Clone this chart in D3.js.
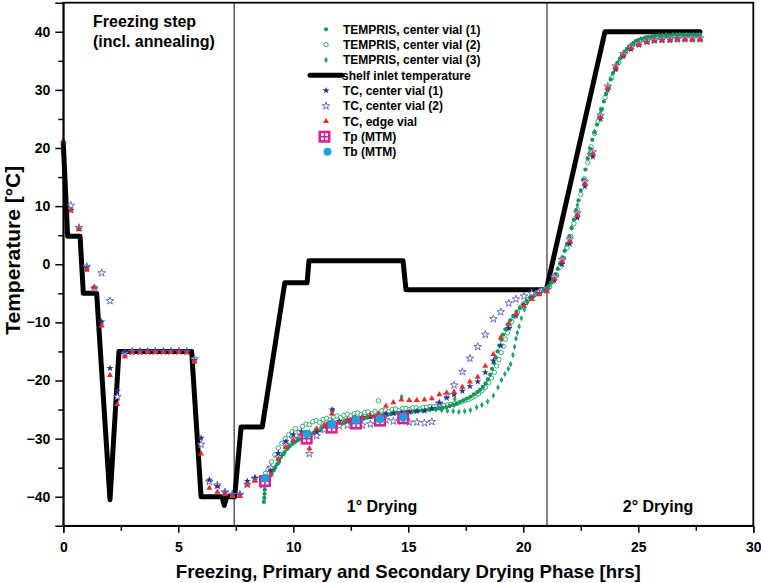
<!DOCTYPE html>
<html><head><meta charset="utf-8">
<script src="https://cdn.jsdelivr.net/npm/d3@7"></script>
<style>
html,body{margin:0;padding:0;background:#fff;}
svg{display:block;font-family:"Liberation Sans",Arial,Helvetica,sans-serif;font-weight:bold;}
</style>
</head><body>
<svg id="chart" width="761" height="583"></svg>
<script>
// ---------- data ----------
const xTicks = [0, 5, 10, 15, 20, 25, 30];
const xMinor = [2.5, 7.5, 12.5, 17.5, 22.5, 27.5];
const yTicks = [-40, -30, -20, -10, 0, 10, 20, 30, 40];
const yMinor = [-35, -25, -15, -5, 5, 15, 25, 35];
const phaseBounds = [7.43, 21.03];

const legendLabels = ["TEMPRIS, center vial (1)", "TEMPRIS, center vial (2)", "TEMPRIS, center vial (3)",
  "shelf inlet temperature", "TC, center vial (1)", "TC, center vial (2)", "TC, edge vial", "Tp (MTM)", "Tb (MTM)"];

// shelf inlet temperature [hrs, °C]
const shelf = [[0,20.7],[0.19,4.8],[0.73,4.8],[0.87,-5],[1.45,-5],[2.03,-40.5],[2.42,-15],[5.58,-15],[5.99,-40],
  [6.9,-40],[7.0,-41.5],[7.1,-40],[7.45,-40],[7.73,-28],[8.65,-28],[9.63,-3.2],[10.6,-3.2],[10.68,0.6],[14.77,0.6],
  [14.9,-4.4],[21.0,-4.4],[23.55,40],[27.68,40]];

// TC edge vial (red triangles)
const tcEdge = [[0.0,21.3],[0.33,9.2],[0.68,6.0],[1.02,-1.0],[1.35,-4.0],[1.67,-10.6],[2.03,-19.1],[2.35,-24.1],[2.68,-15.9],
  [3.0,-15.2],[3.33,-15.2],[3.67,-15.1],[4.0,-15.1],[4.35,-15.1],[4.68,-15.1],[5.03,-15.1],[5.37,-15.2],[5.7,-16.8],
  [5.99,-32.6],[6.35,-38.5],[6.7,-39.2],[7.03,-39.6],[7.35,-39.9],[7.68,-39.9],[8.0,-38.0],[8.33,-37.3],
  [8.67,-37.0],[9.02,-36.2],[9.35,-33.5],[9.68,-31.5],[10.0,-30.3],[10.35,-29.2],[10.7,-31.7],[11.02,-28.3],[11.35,-27.6],
  [11.68,-25.7],[12.0,-27.3],[12.35,-26.8],[12.68,-26.5],[13.0,-26.3],[13.35,-26.0],[13.7,-25.7],[14.03,-24.4],[14.35,-23.8],
  [14.7,-23.3],[15.04,-23.4],[15.37,-23.4],[15.7,-23.3],[16.02,-23.1],[16.35,-22.4],[16.67,-22.1],[16.99,-22.0],[17.35,-21.1],
  [17.68,-20.2],[18.02,-19.4],[18.35,-17.5],[18.7,-15.5],[19.02,-12.6],[19.37,-10.2],[19.68,-8.6],[20.03,-7.2],[20.37,-6.0],
  [20.7,-5.2],[21.02,-4.7],[21.35,-2.5],[21.68,0.5],[22.02,4.0],[22.35,8.5],[22.68,13.9],[23.02,19.0],[23.36,25.3],
  [23.67,30.3],[24.02,33.9],[24.35,36.0],[24.68,37.2],[25.02,37.8],[25.37,38.3],[25.7,38.4],[26.03,38.6],[26.38,38.6],
  [26.7,38.7],[27.03,38.7],[27.35,38.7],[27.68,38.7]];

// TC center vial (1) (filled stars)
const tc1 = [[0.0,20.8],[0.33,9.3],[0.68,6.1],[1.02,-0.6],[1.35,-3.9],[1.67,-9.9],[2.03,-17.9],[2.35,-21.8],[2.68,-15.0],
  [3.0,-15.1],[3.33,-15.0],[3.67,-15.0],[4.0,-15.0],[4.35,-15.0],[4.68,-15.0],[5.03,-15.0],[5.37,-15.0],[5.7,-16.5],
  [5.99,-29.9],[6.35,-37.1],[6.7,-38.2],[7.03,-39.3],[7.35,-39.7],[7.68,-39.7],[8.0,-37.3],[8.33,-36.7],
  [8.67,-37.5],[9.02,-35.5],[9.35,-32.5],[9.68,-30.5],[10.0,-29.3],[10.35,-28.8],[11.02,-28.8],[11.35,-27.8],
  [11.68,-25.0],[12.0,-27.0],[12.35,-26.8],[12.68,-26.4],[13.0,-26.3],[13.35,-26.2],[13.7,-26.0],[14.03,-25.7],[14.35,-25.6],
  [14.7,-25.5],[15.04,-25.4],[15.37,-25.3],[15.7,-25.2],[16.02,-24.8],[16.35,-23.8],[16.67,-23.0],[16.99,-22.4],[17.35,-21.8],
  [17.68,-21.0],[18.02,-20.2],[18.35,-18.6],[18.7,-16.6],[19.02,-14.0],[19.37,-11.0],[19.68,-8.8],[20.03,-7.0],[20.37,-5.8],
  [20.7,-5.0],[21.02,-4.5],[21.35,-2.8],[21.68,0.0],[22.02,3.5],[22.35,8.0],[22.68,13.4],[23.02,18.5],[23.36,25.0],
  [23.67,30.0],[24.02,33.6],[24.35,35.8],[24.68,37.0],[25.02,37.7],[25.37,38.2],[25.7,38.4],[26.03,38.5],[26.38,38.5],
  [26.7,38.6],[27.03,38.6],[27.35,38.6],[27.68,38.6]];

// TC center vial (2) (open stars)
const tc2 = [[0.33,10.1],[0.68,6.3],[1.02,-0.4],[1.35,-4.2],[1.67,-1.5],[2.03,-6.3],[2.35,-22.8],[2.68,-15.3],
  [3.0,-15.0],[3.33,-15.0],[3.67,-15.0],[4.0,-15.0],[4.35,-15.0],[4.68,-15.0],[5.03,-15.0],[5.37,-15.0],[5.7,-16.3],
  [5.99,-31.0],[6.35,-37.4],[6.7,-38.0],[7.03,-39.2],[7.35,-39.6],[7.68,-39.6],[8.0,-37.9],[8.33,-36.9],
  [8.67,-38.0],[9.02,-35.0],[9.35,-33.2],[9.68,-31.0],[10.0,-30.0],[10.35,-29.5],[10.7,-32.6],[11.02,-29.5],[11.35,-28.5],
  [11.68,-27.2],[12.0,-27.8],[12.35,-27.7],[12.68,-27.6],[13.0,-27.7],[13.35,-27.5],[13.7,-27.3],[14.03,-26.8],[14.35,-27.0],
  [14.7,-27.0],[15.04,-27.2],[15.37,-27.2],[15.7,-27.3],[16.02,-27.1],[16.35,-24.0],[16.67,-22.5],[16.99,-20.8],[17.35,-18.5],
  [17.68,-16.2],[18.02,-14.2],[18.35,-12.1],[18.7,-9.4],[19.02,-8.2],[19.37,-6.7],[19.68,-6.0],[20.03,-5.5],[20.37,-5.0],
  [20.7,-4.7],[21.02,-4.4],[21.35,-2.2],[21.68,0.8],[22.02,4.3],[22.35,8.8],[22.68,14.2],[23.02,19.3],[23.36,25.6],
  [23.67,30.6],[24.02,34.1],[24.35,36.2],[24.68,37.4],[25.02,38.0],[25.37,38.4],[25.7,38.6],[26.03,38.7],[26.38,38.8],
  [26.7,38.8],[27.03,38.9],[27.35,38.9],[27.68,38.9]];

// TEMPRIS center vial (1)
const tempris1 = [[8.72,-40.9],[8.74,-40.2],[8.75,-39.5],[8.76,-38.8],[8.78,-38.1],[8.80,-37.5],[8.86,-37.1],[8.95,-36.7],
  [9.05,-36.1],[9.14,-35.5],[9.22,-34.9],[9.30,-34.4],[9.38,-33.8],[9.46,-33.2],[9.54,-32.7],[9.62,-32.3],[9.72,-31.8],
  [9.84,-31.3],[9.96,-30.9],[10.08,-30.6],[10.20,-30.3],[10.33,-30.0],[10.46,-29.8],[10.60,-29.5],[10.74,-29.3],[10.88,-29.0],
  [11.02,-28.8],[11.16,-28.6],[11.30,-28.4],[11.44,-28.2],[11.58,-28.0],[11.72,-27.9],[11.86,-27.7],[12.00,-27.6],[12.15,-27.4],
  [12.30,-27.3],[12.45,-27.1],[12.60,-27.0],[12.75,-26.9],[12.90,-26.7],[13.05,-26.6],[13.20,-26.4],[13.35,-26.3],[13.50,-26.2],
  [13.65,-26.1],[13.80,-26.0],[13.95,-25.9],[14.10,-25.9],[14.25,-25.8],[14.40,-25.7],[14.55,-25.6],[14.70,-25.6],[14.85,-25.5],
  [15.00,-25.4],[15.15,-25.4],[15.30,-25.3],[15.45,-25.2],[15.60,-25.2],[15.75,-25.1],[15.90,-25.0],[16.05,-24.9],[16.20,-24.9],
  [16.35,-24.8],[16.50,-24.7],[16.65,-24.6],[16.80,-24.4],[16.95,-24.2],[17.10,-24.0],[17.25,-23.7],[17.40,-23.4],[17.55,-23.1],
  [17.70,-22.8],[17.85,-22.4],[18.00,-22.0],[18.12,-21.6],[18.24,-21.1],[18.36,-20.5],[18.46,-19.8],[18.56,-19.0],[18.64,-18.0],
  [18.72,-17.0],[18.80,-16.0],[18.88,-15.0],[18.96,-14.0],[19.04,-13.0],[19.12,-12.1],[19.22,-11.2],[19.32,-10.4],[19.44,-9.6],
  [19.56,-8.9],[19.70,-8.2],[19.85,-7.5],[20.00,-6.9],[20.15,-6.3],[20.30,-5.8],[20.45,-5.4],[20.60,-5.0],[20.75,-4.7],
  [20.90,-4.4],[21.02,-4.2],[21.10,-3.8],[21.20,-3.2],[21.30,-2.5],[21.40,-1.7],[21.50,-0.8],[21.60,0.2],[21.70,1.2],
  [21.80,2.3],[21.90,3.5],[22.00,4.8],[22.10,6.2],[22.20,7.7],[22.30,9.3],[22.40,11.0],[22.50,12.7],[22.60,14.5],[22.70,16.3],
  [22.80,18.2],[22.90,19.9],[23.00,21.4],[23.10,22.7],[23.20,24.0],[23.30,25.3],[23.40,26.6],[23.50,28.0],[23.60,29.3],
  [23.70,30.6],[23.80,31.8],[23.90,32.9],[24.00,33.9],[24.10,34.7],[24.20,35.4],[24.30,36.0],[24.40,36.5],[24.50,37.0],
  [24.60,37.4],[24.70,37.8],[24.80,38.1],[24.90,38.4],[25.00,38.6],[25.15,38.8],[25.30,39.0],[25.45,39.1],[25.60,39.2],
  [25.75,39.3],[25.90,39.3],[26.05,39.4],[26.20,39.4],[26.35,39.4],[26.50,39.5],[26.65,39.5],[26.80,39.5],[26.95,39.5],
  [27.10,39.5],[27.25,39.5],[27.40,39.5],[27.55,39.5],[27.68,39.5]];

// TEMPRIS center vial (2)
const tempris2 = [[8.78,-36.0],[8.9,-35.3],[9.05,-34.0],[9.2,-32.8],[9.35,-31.6],[9.5,-30.8],[9.65,-30.0],[9.8,-29.3],
  [9.95,-28.8],[10.1,-28.3],[10.25,-28.9],[10.4,-27.9],[10.55,-27.5],[10.7,-27.6],[10.85,-27.1],[11.0,-26.9],[11.15,-27.2],
  [11.3,-26.7],[11.45,-26.5],[11.6,-26.8],[11.75,-26.3],[11.9,-26.1],[12.05,-26.4],[12.2,-26.0],[12.35,-25.8],[12.5,-26.1],
  [12.65,-25.7],[12.8,-25.6],[12.95,-25.9],[13.1,-25.5],[13.25,-25.4],[13.4,-25.7],[13.55,-25.3],[13.7,-23.5],[13.85,-25.2],
  [14.0,-25.1],[14.15,-25.4],[14.3,-25.0],[14.45,-24.9],[14.6,-25.2],[14.75,-24.8],[14.9,-24.8],[15.05,-25.0],[15.2,-24.7],
  [15.35,-24.7],[15.5,-24.9],[15.65,-24.6],[15.8,-24.6],[15.95,-24.5],[16.1,-24.5],[16.25,-24.4],[16.4,-24.3],[16.55,-24.3],
  [16.7,-24.2],[16.85,-24.1],[17.0,-24.0],[17.15,-23.9],[17.3,-23.7],[17.45,-23.5],[17.6,-23.3],[17.75,-23.0],[17.9,-22.7],
  [18.05,-22.3],[18.2,-21.8],[18.35,-21.2],[18.5,-20.4],[18.62,-19.6],[18.74,-18.6],[18.84,-17.5],[18.94,-16.4],[19.04,-15.2],
  [19.13,-14.1],[19.22,-12.9],[19.31,-11.8],[19.4,-10.8],[19.5,-9.9],[19.62,-9.0],[19.75,-8.2],[19.9,-7.4],[20.05,-6.7],
  [20.2,-6.1],[20.35,-5.6],[20.5,-5.2],[20.65,-4.8],[20.8,-4.5],[20.95,-4.3],[21.15,-3.9],[21.3,-3.0],[21.45,-1.9],
  [21.6,-0.5],[21.75,1.0],[21.9,2.8],[22.05,4.8],[22.2,7.0],[22.35,9.4],[22.5,12.0],[22.65,14.7],[22.8,17.5],[22.95,20.2],
  [23.1,22.5],[23.25,24.6],[23.4,26.7],[23.55,28.7],[23.7,30.5],[23.85,32.1],[24.0,33.5],[24.15,34.7],[24.3,35.7],
  [24.45,36.5],[24.6,37.2],[24.75,37.7],[24.9,38.1],[25.05,38.4],[25.25,38.7],[25.45,38.9],[25.65,39.0],[25.85,39.1],
  [26.05,39.2],[26.3,39.2],[26.55,39.3],[26.8,39.3],[27.05,39.3],[27.3,39.3],[27.55,39.3]];

// TEMPRIS center vial (3)
const tempris3 = [[8.75,-37.8],[8.85,-37.3],[9.0,-36.4],[9.2,-35.2],[9.4,-34.0],[9.6,-32.6],[9.8,-31.5],[10.0,-30.7],
  [10.2,-30.0],[10.45,-29.4],[10.7,-28.9],[10.95,-28.5],[11.2,-28.1],[11.45,-27.8],[11.7,-27.5],[11.74,-25.1],[11.95,-27.3],
  [12.2,-27.0],[12.45,-26.8],[12.7,-26.6],[12.95,-26.4],[13.2,-26.2],[13.45,-26.0],[13.7,-25.8],[13.95,-25.7],[14.2,-25.6],
  [14.45,-25.5],[14.71,-22.8],[14.7,-25.4],[14.95,-25.3],[15.2,-25.2],[15.45,-25.1],[15.7,-25.0],[15.95,-25.0],[16.2,-25.0],
  [16.45,-25.1],[16.7,-25.2],[16.95,-25.3],[17.0,-24.2],[17.02,-23.2],[17.2,-25.4],[17.45,-25.3],[17.7,-25.1],[17.97,-24.6],
  [18.2,-24.2],[18.45,-23.6],[18.7,-22.6],[18.9,-21.2],[19.05,-19.9],[19.2,-18.9],[19.35,-18.0],[19.45,-17.2],[19.55,-15.6],
  [19.62,-14.2],[19.68,-12.8],[19.74,-11.8],[19.82,-10.7],[19.92,-9.3],[20.05,-7.8],[20.18,-6.6],[20.35,-5.7],[20.55,-5.0],
  [20.75,-4.6],[20.95,-4.3],[21.1,-3.9],[21.35,-2.3],[21.6,0.0],[21.85,2.9],[22.1,6.3],[22.35,10.2],[22.6,14.6],[22.85,19.0],
  [23.1,22.8],[23.35,26.0],[23.6,29.3],[23.85,32.2],[24.1,34.5],[24.35,36.2],[24.6,37.4],[24.85,38.2],[25.1,38.7],[25.35,39.0],
  [25.6,39.2],[25.9,39.3],[26.2,39.4],[26.5,39.4],[26.8,39.4],[27.1,39.4],[27.4,39.4],[27.65,39.4]];

// MTM results
const mtmHrs = [8.77, 10.58, 11.67, 12.73, 13.77, 14.78];
const tpMTM = [-37.3, -30.0, -28.1, -27.4, -26.9, -26.5];
const tbMTM = [-36.8, -29.2, -27.5, -26.8, -26.6, -26.3];

// ---------- drawing ----------
const W = 761, H = 583;
const m = {left: 63.3, right: 7.7, top: 2.7, bottom: 57.2};
const svg = d3.select("#chart");
const x = d3.scaleLinear().domain([0, 30]).range([m.left, W - m.right]);
const y = d3.scaleLinear().domain([-45, 45]).range([H - m.bottom, m.top]);

const C = {
  t1: "#13955a", t2: "#34ad70", t3: "#27a070",
  star1: "#30308c", star2: "#5b5bbd", tri: "#e3302b",
  tp: "#d6218e", tb: "#1ba2da", shelf: "#000"
};

// phase divider lines
svg.append("g").selectAll("line").data(phaseBounds).join("line")
  .attr("x1", d => x(d)).attr("x2", d => x(d))
  .attr("y1", y(45)).attr("y2", y(-45))
  .attr("stroke", "#444").attr("stroke-width", 1.3);

// phase labels
const lab = svg.append("g").attr("font-size", 16);
lab.append("text").attr("x", 93).attr("y", 27).text("Freezing step");
lab.append("text").attr("x", 93).attr("y", 47).text("(incl. annealing)");
lab.append("text").attr("x", 382).attr("y", 512).attr("text-anchor", "middle").text("1° Drying");
lab.append("text").attr("x", 658).attr("y", 512).attr("text-anchor", "middle").text("2° Drying");

// shelf line
svg.append("path").datum(shelf)
  .attr("d", d3.line().x(d => x(d[0])).y(d => y(d[1])))
  .attr("fill", "none").attr("stroke", C.shelf).attr("stroke-width", 5)
  .attr("stroke-linejoin", "round").attr("stroke-linecap", "round");

const sym = (type, size) => d3.symbol().type(type).size(size)();

// TEMPRIS points
svg.append("g").selectAll("path").data(tempris3).join("path")
  .attr("transform", d => `translate(${x(d[0])},${y(d[1])})`)
  .attr("d", sym(d3.symbolDiamond, 12)).attr("fill", C.t3);
svg.append("g").selectAll("circle").data(tempris2).join("circle")
  .attr("cx", d => x(d[0])).attr("cy", d => y(d[1])).attr("r", 2.2)
  .attr("fill", "#fff").attr("stroke", C.t2).attr("stroke-width", 1);
svg.append("g").selectAll("circle").data(tempris1).join("circle")
  .attr("cx", d => x(d[0])).attr("cy", d => y(d[1])).attr("r", 2.1)
  .attr("fill", C.t1);

// TC points
svg.append("g").selectAll("path").data(tc2).join("path")
  .attr("transform", d => `translate(${x(d[0])},${y(d[1])})`)
  .attr("d", sym(d3.symbolStar, 18)).attr("fill", "#fff").attr("stroke", C.star2).attr("stroke-width", 0.9);
svg.append("g").selectAll("path").data(tc1).join("path")
  .attr("transform", d => `translate(${x(d[0])},${y(d[1])})`)
  .attr("d", sym(d3.symbolStar, 16)).attr("fill", C.star1);
svg.append("g").selectAll("path").data(tcEdge).join("path")
  .attr("transform", d => `translate(${x(d[0])},${y(d[1])})`)
  .attr("d", sym(d3.symbolTriangle, 16)).attr("fill", C.tri);

// MTM markers
function tpMarker(g) {
  g.append("rect").attr("x", -6).attr("y", -6).attr("width", 12).attr("height", 12).attr("fill", C.tp);
  [[-3.5, -3.5], [0.8, -3.5], [-3.5, 0.8], [0.8, 0.8]].forEach(o =>
    g.append("rect").attr("x", o[0]).attr("y", o[1]).attr("width", 2.7).attr("height", 2.7).attr("fill", "#fff"));
}
svg.append("g").selectAll("g").data(mtmHrs.map((h, i) => [h, tpMTM[i]])).join("g")
  .attr("transform", d => `translate(${x(d[0])},${y(d[1])})`).each(function () { tpMarker(d3.select(this)); });
svg.append("g").selectAll("circle").data(mtmHrs.map((h, i) => [h, tbMTM[i]])).join("circle")
  .attr("cx", d => x(d[0])).attr("cy", d => y(d[1])).attr("r", 4.3).attr("fill", C.tb);

// axes
svg.append("g").attr("transform", `translate(0,${y(-45)})`)
  .call(d3.axisBottom(x).tickValues(xTicks).tickSize(7).tickPadding(9).tickFormat(d3.format("d")));
svg.append("g").attr("transform", `translate(0,${y(-45)})`)
  .call(d3.axisBottom(x).tickValues(xMinor).tickSize(5).tickFormat(""))
  .select(".domain").remove();
svg.append("g").attr("transform", `translate(${x(0)},0)`)
  .call(d3.axisLeft(y).tickValues(yTicks).tickSize(8).tickPadding(5).tickFormat(d3.format("d")));
svg.append("g").attr("transform", `translate(${x(0)},0)`)
  .call(d3.axisLeft(y).tickValues(yMinor).tickSize(5).tickFormat(""))
  .select(".domain").remove();
svg.selectAll(".tick text").attr("font-size", 14).attr("font-weight", "bold")
  .attr("font-family", '"Liberation Sans",Arial,sans-serif').attr("fill", "#000");
svg.selectAll(".tick line").attr("stroke", "#000").attr("stroke-width", 1.5);
svg.selectAll(".domain").attr("stroke-width", 1.5);

// frame
svg.append("rect").attr("x", x(0)).attr("y", y(45)).attr("width", x(30) - x(0)).attr("height", y(-45) - y(45))
  .attr("fill", "none").attr("stroke", "#000").attr("stroke-width", 1.8);

// axis titles
svg.append("text").attr("x", (x(0) + x(30)) / 2).attr("y", 578).attr("text-anchor", "middle")
  .attr("font-size", 18.6).text("Freezing, Primary and Secondary Drying Phase [hrs]");
svg.append("text").attr("transform", `translate(20,${(y(-45) + y(45)) / 2 - 14}) rotate(-90)`)
  .attr("text-anchor", "middle").attr("font-size", 21).text("Temperature [°C]");

// legend
const lg = svg.append("g").attr("font-size", 12);
const rowY = [29.3, 44.6, 60, 75.2, 90.5, 106, 121.2, 136.7, 151.8];
const lx = 326, tx = 343;
legendLabels.forEach((t, i) => {
  lg.append("text").attr("x", i === 3 ? 342 : tx).attr("y", rowY[i] + 4.3).text(t);
});
lg.append("circle").attr("cx", lx).attr("cy", rowY[0]).attr("r", 2.1).attr("fill", C.t1);
lg.append("circle").attr("cx", lx).attr("cy", rowY[1]).attr("r", 2.2).attr("fill", "#fff").attr("stroke", C.t2);
lg.append("path").attr("transform", `translate(${lx},${rowY[2]})`).attr("d", sym(d3.symbolDiamond, 12)).attr("fill", C.t3);
lg.append("line").attr("x1", 310).attr("x2", 342).attr("y1", rowY[3]).attr("y2", rowY[3])
  .attr("stroke", C.shelf).attr("stroke-width", 5).attr("stroke-linecap", "round");
lg.append("path").attr("transform", `translate(${lx},${rowY[4]})`).attr("d", sym(d3.symbolStar, 16)).attr("fill", C.star1);
lg.append("path").attr("transform", `translate(${lx},${rowY[5]})`).attr("d", sym(d3.symbolStar, 18))
  .attr("fill", "#fff").attr("stroke", C.star2).attr("stroke-width", 0.9);
lg.append("path").attr("transform", `translate(${lx},${rowY[6]})`).attr("d", sym(d3.symbolTriangle, 16)).attr("fill", C.tri);
const lgTp = lg.append("g").attr("transform", `translate(${lx - 1.5},${rowY[7]})`);
tpMarker(lgTp);
lg.append("circle").attr("cx", lx + 1.5).attr("cy", rowY[8]).attr("r", 4).attr("fill", C.tb);
</script>
</body></html>
